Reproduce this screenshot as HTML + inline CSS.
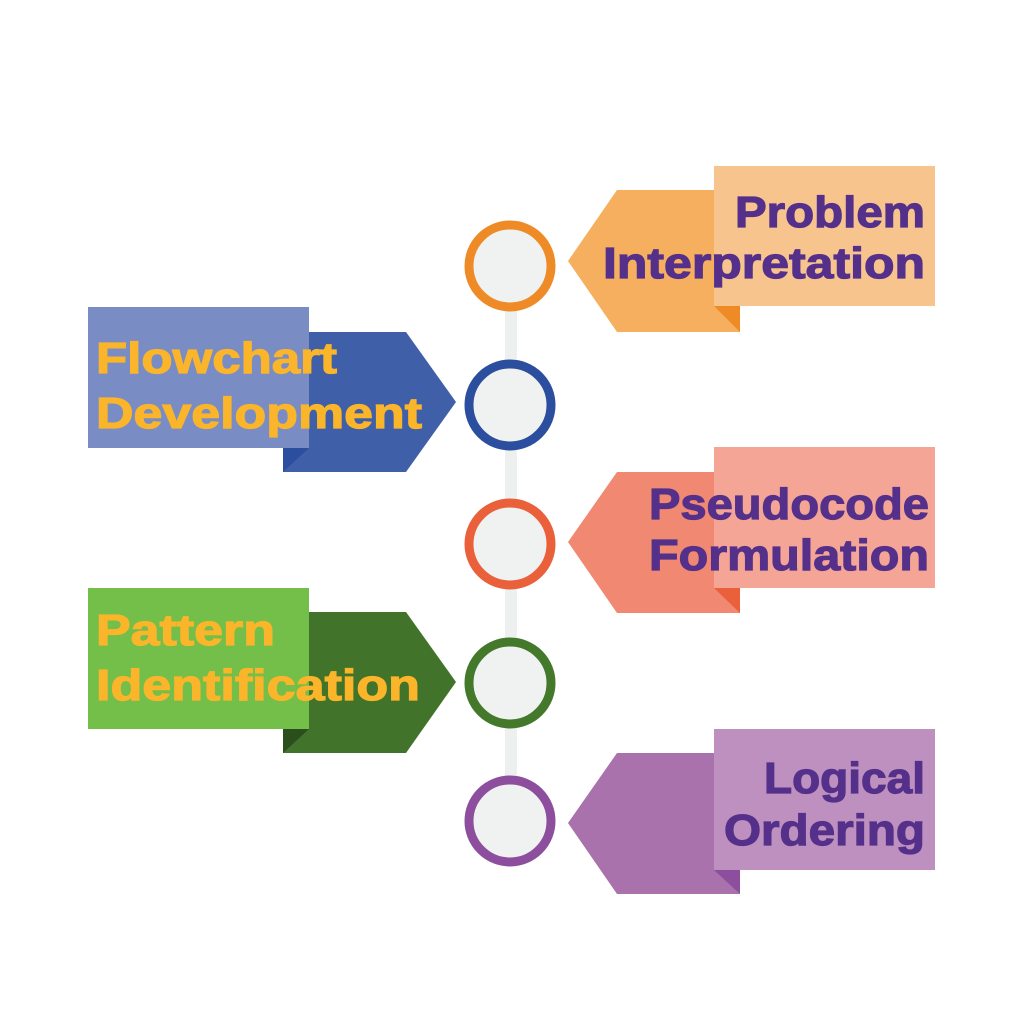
<!DOCTYPE html>
<html><head><meta charset="utf-8"><style>html,body{margin:0;padding:0;background:#fff}svg{display:block}text{font-family:"Liberation Sans",sans-serif;font-weight:bold;font-size:44px;stroke-width:1.2px}</style></head>
<body>
<svg width="1024" height="1024" viewBox="0 0 1024 1024">
<rect x="0" y="0" width="1024" height="1024" fill="#fff"/>
<rect x="505" y="266" width="12" height="555" fill="#eef0f0"/>
<polygon points="617,190 740,190 740,332 617,332 568,261" fill="#F5AF5E"/>
<rect x="714" y="166" width="221" height="140" fill="#F8C48E"/>
<polygon points="714,306 740,306 740,332" fill="#EE8B26"/>
<text x="925" y="227" text-anchor="end" fill="#55308A" stroke="#55308A" textLength="190" lengthAdjust="spacingAndGlyphs">Problem</text>
<text x="925" y="278" text-anchor="end" fill="#55308A" stroke="#55308A" textLength="322" lengthAdjust="spacingAndGlyphs">Interpretation</text>
<polygon points="617,472 740,472 740,613 617,613 568,542" fill="#F08872"/>
<rect x="714" y="447" width="221" height="141" fill="#F5A595"/>
<polygon points="714,588 740,588 740,613" fill="#E9603A"/>
<text x="929" y="519" text-anchor="end" fill="#55308A" stroke="#55308A" textLength="280" lengthAdjust="spacingAndGlyphs">Pseudocode</text>
<text x="929" y="570" text-anchor="end" fill="#55308A" stroke="#55308A" textLength="280" lengthAdjust="spacingAndGlyphs">Formulation</text>
<polygon points="617,753 740,753 740,894 617,894 568,823" fill="#A972AC"/>
<rect x="714" y="729" width="221" height="141" fill="#BE90BF"/>
<polygon points="714,870 740,870 740,894" fill="#8E4E9E"/>
<text x="925" y="793" text-anchor="end" fill="#55308A" stroke="#55308A" textLength="161" lengthAdjust="spacingAndGlyphs">Logical</text>
<text x="925" y="845" text-anchor="end" fill="#55308A" stroke="#55308A" textLength="201" lengthAdjust="spacingAndGlyphs">Ordering</text>
<polygon points="283,332 406,332 456,402 406,472 283,472" fill="#3F5FA8"/>
<rect x="88" y="307" width="221" height="141" fill="#7A8CC4"/>
<polygon points="283,448 309,448 283,472" fill="#2B4E9E"/>
<text x="96" y="373" fill="#FBB52A" stroke="#FBB52A" textLength="241" lengthAdjust="spacingAndGlyphs">Flowchart</text>
<text x="96" y="428" fill="#FBB52A" stroke="#FBB52A" textLength="326" lengthAdjust="spacingAndGlyphs">Development</text>
<polygon points="283,612 406,612 456,682 406,753 283,753" fill="#41742A"/>
<rect x="88" y="588" width="221" height="141" fill="#74BE4A"/>
<polygon points="283,729 309,729 283,753" fill="#2A4E1C"/>
<text x="96" y="645" fill="#FBB52A" stroke="#FBB52A" textLength="179" lengthAdjust="spacingAndGlyphs">Pattern</text>
<text x="96" y="700" fill="#FBB52A" stroke="#FBB52A" textLength="324" lengthAdjust="spacingAndGlyphs">Identification</text>
<circle cx="510" cy="266" r="41" fill="#f0f1f1" stroke="#EE8B26" stroke-width="9"/>
<circle cx="510" cy="405" r="41" fill="#f0f1f1" stroke="#2B4E9E" stroke-width="9"/>
<circle cx="510" cy="544" r="41" fill="#f0f1f1" stroke="#E9603A" stroke-width="9"/>
<circle cx="510" cy="683" r="41" fill="#f0f1f1" stroke="#44782A" stroke-width="9"/>
<circle cx="510" cy="821" r="41" fill="#f0f1f1" stroke="#8E4E9E" stroke-width="9"/>
</svg>
</body></html>
